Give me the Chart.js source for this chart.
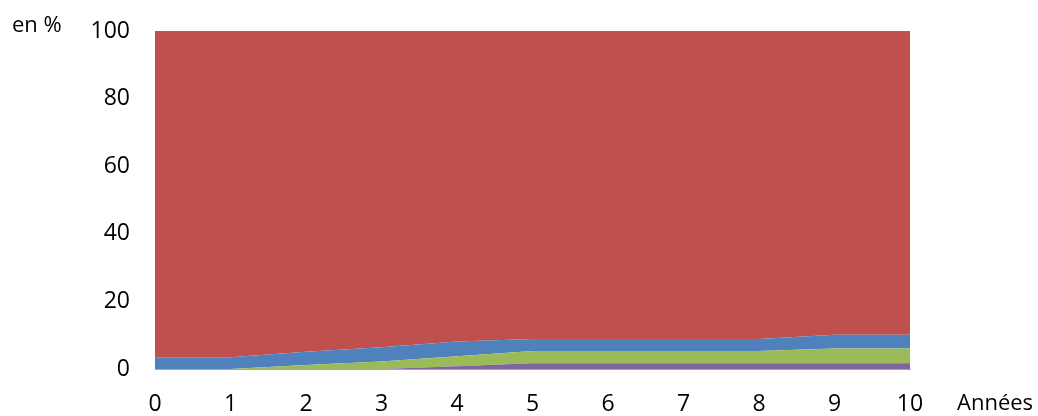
<!DOCTYPE html>
<html>
<head>
<meta charset="utf-8">
<script src="https://cdn.jsdelivr.net/npm/chart.js@4"></script>
<style>
  html, body { margin: 0; padding: 0; background: #fff; }
  #wrap { width: 1038px; height: 416px; position: relative; }
</style>
</head>
<body>
<div id="wrap"><canvas id="myChart" width="1038" height="416"></canvas></div>
<script>
// annees (axe x)
var annees = ['0', '1', '2', '3', '4', '5', '6', '7', '8', '9', '10'];
// couches empilees, du bas vers le haut (en %)
var violet = [0, 0, 0, 0, 0.8, 1.7, 1.7, 1.7, 1.7, 1.7, 1.7];
var vert   = [0, 0, 1.2, 2.2, 3.0, 3.6, 3.6, 3.6, 3.6, 4.4, 4.4];
var bleu   = [3.5, 3.5, 3.9, 4.2, 4.3, 3.6, 3.6, 3.6, 3.6, 4.0, 4.0];
var rouge  = [96.5, 96.5, 94.9, 93.6, 91.9, 91.1, 91.1, 91.1, 91.1, 89.9, 89.9];
var yTicks = [0, 20, 40, 60, 80, 100];

var police = { family: '"Open Sans", sans-serif', size: 23 };

function couche(data, couleur, fill) {
    return {
        data: data,
        backgroundColor: couleur,
        borderWidth: 0,
        pointRadius: 0,
        fill: fill,
        tension: 0
    };
}

// textes "en %" et "Années"
var titres = {
    id: 'titres',
    afterDraw: function (chart) {
        var ctx = chart.ctx;
        ctx.save();
        ctx.fillStyle = '#000';
        ctx.font = '22px "Open Sans", sans-serif';
        ctx.textBaseline = 'middle';
        ctx.textAlign = 'left';
        ctx.fillText('en %', 12, 26);
        ctx.fillText('Années', 957, 404);
        ctx.restore();
    }
};

var ctx = document.getElementById('myChart').getContext('2d');
var myChart = new Chart(ctx, {
    type: 'line',
    data: {
        labels: annees,
        datasets: [
            couche(violet, '#8064A2', 'origin'),
            couche(vert, '#9BBB59', '-1'),
            couche(bleu, '#4F81BD', '-1'),
            couche(rouge, '#C0504D', '-1')
        ]
    },
    plugins: [titres],
    options: {
        responsive: false,
        animation: false,
        layout: { padding: { left: 0, right: 128, top: 31, bottom: 0 } },
        plugins: { legend: { display: false }, tooltip: { enabled: false } },
        scales: {
            x: {
                offset: false,
                grid: { display: false, drawTicks: false },
                border: { display: true, color: '#a6a6a6', width: 1 },
                ticks: { color: '#000', font: police, padding: 22, maxRotation: 0, autoSkip: false },
                afterFit: function (s) { s.height = 47; s.paddingLeft = 0; s.paddingRight = 0; }
            },
            y: {
                stacked: true,
                min: 0,
                max: 100,
                grid: { display: false, drawTicks: false },
                border: { display: true, color: '#a6a6a6', width: 1 },
                afterBuildTicks: function (s) { s.ticks = yTicks.map(function (v) { return { value: v }; }); },
                ticks: { color: '#000', font: police, padding: 25 },
                afterFit: function (s) { s.width = 155; s.paddingTop = 0; s.paddingBottom = 0; }
            }
        }
    }
});
</script>
</body>
</html>
